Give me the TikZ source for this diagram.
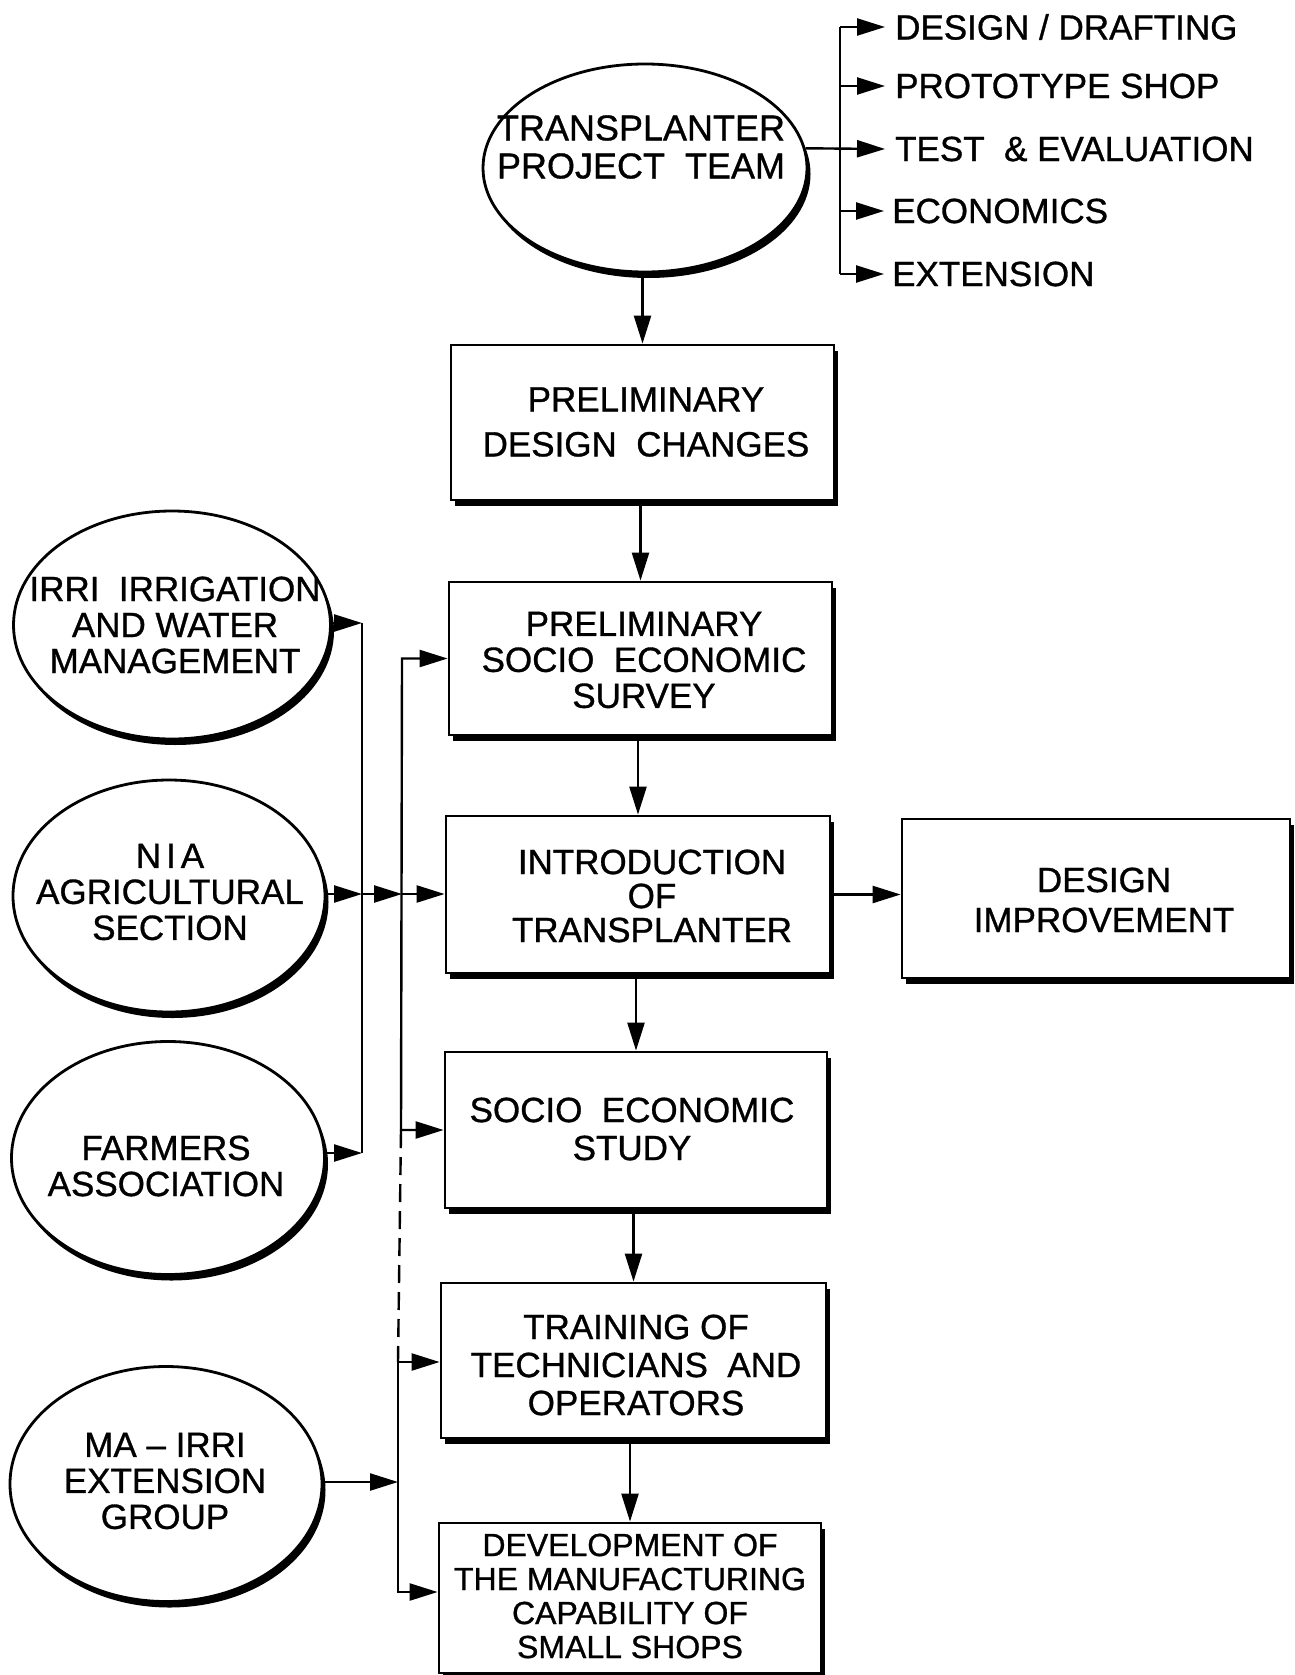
\documentclass[tikz,border=0pt]{standalone}
\usepackage{fontspec}
\setmainfont{Liberation Sans}[FakeBold=0.9]
\usetikzlibrary{shapes.geometric,arrows.meta,shadows}
\newcommand{\setfs}[2]{\fontsize{#1}{#2}\selectfont}
\begin{document}
\begin{tikzpicture}[x=1pt,y=-1pt,
  ln/.style={line width=2.4pt},
  arr/.style={line width=2.4pt,-{Triangle[length=28pt,width=17pt]}},
  arrb/.style={line width=2.4pt,{Triangle[length=28pt,width=17pt]}-{Triangle[length=28pt,width=17pt]}},
  dsh/.style={line width=2.4pt,dash pattern=on 18pt off 9pt},
  shd/.style={drop shadow={shadow xshift=3.5pt,shadow yshift=-6pt,fill=black,opacity=1}},
  boxn/.style={draw,line width=2.8pt,fill=white,inner sep=0pt,shd},
  elln/.style={ellipse,draw,line width=2.8pt,fill=white,inner sep=0pt,shd},
  txt/.style={inner sep=0pt,align=center,font=\setfs{35}{36}},
  lst/.style={inner sep=0pt,anchor=west,font=\setfs{35}{36}}
]
\useasboundingbox (0,0) rectangle (1295,1675);

% ---------- ellipses ----------
\node[elln,minimum width=324pt,minimum height=208pt] (te) at (645,168) {};
\node[elln,minimum width=317pt,minimum height=228pt] (irri) at (172,625) {};
\node[elln,minimum width=312pt,minimum height=232pt] (nia) at (169,896) {};
\node[elln,minimum width=313pt,minimum height=233pt] (fa) at (168,1158) {};
\node[elln,minimum width=312pt,minimum height=235pt] (ma) at (166,1484) {};

\node[txt,font=\setfs{36}{38}] (teT) at (641,147) {TRANSPLANTER\\PROJECT\ \ TEAM};
\node[txt] (irriT) at (175,625) {IRRI\ \ IRRIGATION\\AND\ WATER\\MANAGEMENT};
\node[txt] (niaT) at (170,892) {N\hspace{5pt}I\hspace{5pt}A\\AGRICULTURAL\\SECTION};
\node[txt] (faT) at (166,1166) {FARMERS\\ASSOCIATION};
\node[txt,font=\setfs{35}{36}] (maT) at (165,1481) {MA -- IRRI\\EXTENSION\\GROUP};

% ---------- boxes ----------
\node[boxn,minimum width=383pt,minimum height=155pt] (b1) at (642.5,422.5) {};
\node[boxn,minimum width=383pt,minimum height=153pt] (b2) at (640.5,658.5) {};
\node[boxn,minimum width=384pt,minimum height=157pt] (b3) at (638,894.5) {};
\node[boxn,minimum width=388pt,minimum height=159pt] (di) at (1096,898.5) {};
\node[boxn,minimum width=382pt,minimum height=156pt] (b5) at (636,1130) {};
\node[boxn,minimum width=385pt,minimum height=155pt] (b6) at (633.5,1360.5) {};
\node[boxn,minimum width=382pt,minimum height=150pt] (b7) at (630,1598) {};

\node[txt,font=\setfs{35}{45}] (b1T) at (646,422) {PRELIMINARY\\DESIGN\ \ CHANGES};
\node[txt] (b2T) at (644,660) {PRELIMINARY\\SOCIO\ \ ECONOMIC\\SURVEY};
\node[txt,font=\setfs{35}{34}] (b3T) at (652,896) {INTRODUCTION\\OF\\TRANSPLANTER};
\node[txt,font=\setfs{35}{40}] (diT) at (1104,900) {DESIGN\\IMPROVEMENT};
\node[txt,font=\setfs{35}{38}] (b5T) at (632,1129) {SOCIO\ \ ECONOMIC\\STUDY};
\node[txt,font=\setfs{35}{38}] (b6T) at (636,1365) {TRAINING OF\\TECHNICIANS\ \ AND\\OPERATORS};
\node[txt,font=\setfs{32}{34}] (b7T) at (630,1596) {DEVELOPMENT OF\\THE MANUFACTURING\\CAPABILITY OF\\SMALL SHOPS};

% ---------- list on the right ----------
\node[lst] (l1) at (895,27) {DESIGN / DRAFTING};
\node[lst] (l2) at (895,86) {PROTOTYPE\ SHOP};
\node[lst] (l3) at (895,149) {TEST\ \ \&\ EVALUATION};
\node[lst] (l4) at (892,211) {ECONOMICS};
\node[lst] (l5) at (892,274) {EXTENSION};

\coordinate (bt) at (840,27);
\coordinate (bb) at (840,274);
\draw[ln] (bt) -- (bb);
\draw[arr] (bt) -- ([xshift=-10pt]l1.west);
\draw[arr] (bt |- l2.west) -- ([xshift=-10pt]l2.west);
\draw[arr] (te.7) -- ([xshift=-10pt]l3.west);
\draw[arr] (bt |- l4.west) -- ([xshift=-8pt]l4.west);
\draw[arr] (bb) -- ([xshift=-8pt]l5.west);

% ---------- main column ----------
\draw[arr] (b1.north |- te.south) -- (b1.north);
\draw[arr] (b2.north |- b1.south) -- (b2.north);
\draw[arr] (b3.north |- b2.south) -- (b3.north);
\draw[arr] (b5.north |- b3.south) -- (b5.north);
\draw[arr] (b6.north |- b5.south) -- (b6.north);
\draw[arr] (b7.north |- b6.south) -- (b7.north);
\draw[arr] (b3.east) -- (b3.east -| di.west);

% ---------- left buses ----------
\coordinate (aTop) at (362,623);
\coordinate (aMid) at (362,894);
\coordinate (aBot) at (362,1153);
\coordinate (bMid) at (402,894);
\coordinate (bTop) at (402,658.5);
\coordinate (bLow) at (401,1130);
\coordinate (cTop) at (398,1362);
\coordinate (cMA) at (398,1482);
\coordinate (cBot) at (398,1592);

\draw[ln] (aTop) -- (aBot);
\draw[arr] (irri.east |- aTop) -- (aTop);
\draw[arr] (fa.east |- aBot) -- (aBot);
\draw[arr] (nia.east |- aMid) -- (aMid);
\draw[arr] (aMid) -- (bMid);
\draw[arr] (bMid) -- (bMid -| b3.west);

\draw[arrb] (b2.west) -- (bTop) -- (bLow) -- (b5.west);
\draw[dsh] (bLow) -- (cTop);
\draw[arrb] (cTop -| b6.west) -- (cTop) -- (cBot) -- (cBot -| b7.west);
\draw[arr] (ma.east |- cMA) -- (cMA);
\end{tikzpicture}
\end{document}
